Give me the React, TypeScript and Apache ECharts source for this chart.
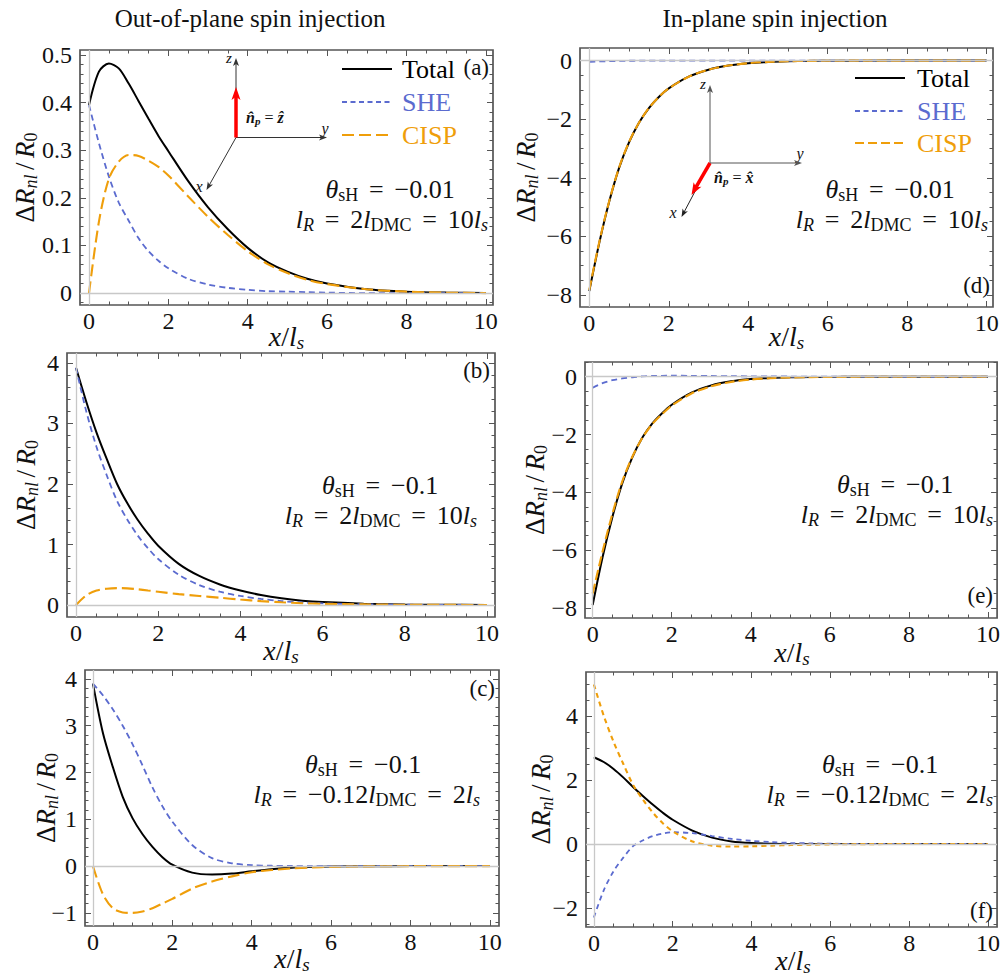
import React, { useEffect, useRef } from 'react';
import * as echarts from 'echarts';

const FONT = 'Liberation Serif';
const BLUE = '#5b6bcf';
const ORANGE = '#ef9e0a';
const FRAME = '#555555';

const xs = [0, 0.25, 0.5, 0.75, 1, 1.25, 1.5, 1.75, 2, 2.5, 3, 3.5, 4, 4.5, 5, 5.5, 6, 7, 8, 9, 10];

// (a) out-of-plane, thetaSH = -0.01
const totalA = [0.395, 0.465, 0.482, 0.472, 0.44, 0.403, 0.366, 0.33, 0.298, 0.235, 0.18, 0.134, 0.095, 0.065, 0.045, 0.03, 0.02, 0.008, 0.003, 0.001, 0];
const sheA = [0.395, 0.315, 0.245, 0.19, 0.152, 0.115, 0.088, 0.068, 0.052, 0.03, 0.018, 0.011, 0.007, 0.004, 0.003, 0.002, 0.001, 0, 0, 0, 0];
const cispA = [0, 0.15, 0.24, 0.276, 0.29, 0.288, 0.278, 0.265, 0.247, 0.203, 0.16, 0.122, 0.088, 0.061, 0.042, 0.028, 0.019, 0.008, 0.003, 0.001, 0];

// (b) out-of-plane, thetaSH = -0.1
const totalB = [3.92, 3.36, 2.85, 2.41, 2.0, 1.68, 1.41, 1.18, 0.98, 0.68, 0.48, 0.34, 0.24, 0.165, 0.11, 0.072, 0.048, 0.022, 0.009, 0.004, 0.002];
const sheB = [3.92, 3.2, 2.61, 2.14, 1.72, 1.41, 1.15, 0.94, 0.76, 0.5, 0.33, 0.22, 0.15, 0.1, 0.065, 0.042, 0.028, 0.012, 0.005, 0.002, 0.001];
const cispB = [0, 0.16, 0.24, 0.27, 0.28, 0.275, 0.26, 0.24, 0.22, 0.18, 0.15, 0.12, 0.09, 0.065, 0.045, 0.03, 0.02, 0.01, 0.004, 0.002, 0.001];

// (c) out-of-plane, lR = -0.12 lDMC
const totalC = [3.9, 2.85, 2.12, 1.48, 1.02, 0.68, 0.41, 0.19, 0.03, -0.14, -0.18, -0.16, -0.11, -0.065, -0.035, -0.02, -0.01, -0.003, 0, 0, 0];
const sheC = [3.9, 3.65, 3.35, 3.0, 2.6, 2.15, 1.68, 1.28, 0.95, 0.45, 0.17, 0.06, 0.02, 0.007, 0.002, 0, 0, 0, 0, 0, 0];
const cispC = [0, -0.6, -0.9, -0.99, -1.0, -0.97, -0.9, -0.8, -0.7, -0.48, -0.33, -0.22, -0.13, -0.085, -0.05, -0.03, -0.017, -0.005, -0.001, 0, 0];

// (d) in-plane, thetaSH = -0.01
const totalD = [-7.87, -6.23, -4.82, -3.66, -2.79, -2.12, -1.62, -1.24, -0.95, -0.55, -0.31, -0.17, -0.09, -0.045, -0.022, -0.011, -0.005, -0.001, 0, 0, 0];
const sheD = [-0.04, -0.028, -0.018, -0.011, -0.006, -0.003, -0.001, 0, 0.001, 0.002, 0.001, 0.001, 0, 0, 0, 0, 0, 0, 0, 0, 0];
const cispD = [-7.83, -6.2, -4.8, -3.65, -2.78, -2.12, -1.62, -1.24, -0.95, -0.55, -0.31, -0.17, -0.09, -0.045, -0.022, -0.011, -0.005, -0.001, 0, 0, 0];

// (e) in-plane, thetaSH = -0.1
const totalE = [-7.9, -6.25, -4.85, -3.68, -2.8, -2.12, -1.63, -1.27, -0.97, -0.55, -0.3, -0.16, -0.08, -0.04, -0.02, -0.01, -0.005, -0.001, 0, 0, 0];
const sheE = [-0.38, -0.22, -0.12, -0.06, -0.02, 0.01, 0.025, 0.032, 0.035, 0.032, 0.026, 0.02, 0.015, 0.01, 0.007, 0.005, 0.003, 0.001, 0, 0, 0];
const cispE = [-7.5, -6.05, -4.74, -3.62, -2.78, -2.13, -1.65, -1.3, -1.0, -0.58, -0.33, -0.18, -0.095, -0.05, -0.027, -0.015, -0.008, -0.002, 0, 0, 0];

// (f) in-plane, lR = -0.12 lDMC
const totalF = [2.72, 2.57, 2.35, 2.08, 1.78, 1.5, 1.23, 0.98, 0.76, 0.42, 0.2, 0.08, 0.03, 0.01, 0.003, 0, 0, 0, 0, 0, 0];
const sheF = [-2.3, -1.45, -0.85, -0.42, -0.06, 0.12, 0.25, 0.33, 0.37, 0.34, 0.25, 0.16, 0.1, 0.06, 0.035, 0.02, 0.01, 0.003, 0, 0, 0];
const cispF = [5.0, 4.02, 3.2, 2.5, 1.84, 1.38, 0.98, 0.65, 0.4, 0.08, -0.05, -0.08, -0.07, -0.05, -0.032, -0.02, -0.01, -0.003, 0, 0, 0];

const xMajor = [0, 2, 4, 6, 8, 10];
const yMajorA = [0, 0.1, 0.2, 0.3, 0.4, 0.5];
const yMajorB = [0, 1, 2, 3, 4];
const yMajorC = [-1, 0, 1, 2, 3, 4];
const yMajorD = [-8, -6, -4, -2, 0];
const yMajorF = [-2, 0, 2, 4];

const legendNames = ['Total', 'SHE', 'CISP'];

type Panel = {
  left: number; top: number; right: number; bottom: number;
  xmin: number; xmax: number; ymin: number; ymax: number;
  yMajor: number[]; yMinorStep: number;
  total: number[]; she: number[]; cisp: number[];
  sheDash: number[]; cispDash: number[]; nameX: number; nameXY: number;
};

const panels: Panel[] = [
  { left: 80, top: 50, right: 493, bottom: 305, xmin: -0.227, xmax: 10.18, ymin: -0.025, ymax: 0.5105, yMajor: yMajorA, yMinorStep: 0.02, total: totalA, she: sheA, cisp: cispA, sheDash: [6, 4], cispDash: [12, 5], nameX: 25, nameXY: 336 },
  { left: 67, top: 353, right: 495, bottom: 617, xmin: -0.219, xmax: 10.195, ymin: -0.198, ymax: 4.165, yMajor: yMajorB, yMinorStep: 0.2, total: totalB, she: sheB, cisp: cispB, sheDash: [6, 4], cispDash: [12, 5], nameX: 26, nameXY: 650 },
  { left: 85, top: 670, right: 499, bottom: 926, xmin: -0.2, xmax: 10.23, ymin: -1.28, ymax: 4.19, yMajor: yMajorC, yMinorStep: 0.2, total: totalC, she: sheC, cisp: cispC, sheDash: [6, 4], cispDash: [12, 5], nameX: 46, nameXY: 958 },
  { left: 580, top: 48, right: 993, bottom: 307, xmin: -0.234, xmax: 10.16, ymin: -8.41, ymax: 0.43, yMajor: yMajorD, yMinorStep: 0.5, total: totalD, she: sheD, cisp: cispD, sheDash: [6, 4], cispDash: [10, 4], nameX: 526, nameXY: 336 },
  { left: 585, top: 362, right: 999, bottom: 618, xmin: -0.194, xmax: 10.23, ymin: -8.35, ymax: 0.51, yMajor: yMajorD, yMinorStep: 0.5, total: totalE, she: sheE, cisp: cispE, sheDash: [6, 4], cispDash: [10, 4], nameX: 535, nameXY: 652 },
  { left: 586, top: 672, right: 1000, bottom: 927, xmin: -0.2, xmax: 10.23, ymin: -2.6, ymax: 5.39, yMajor: yMajorF, yMinorStep: 0.5, total: totalF, she: sheF, cisp: cispF, sheDash: [5, 4], cispDash: [5, 4], nameX: 541, nameXY: 960 },
];

function minorTicks(min: number, max: number, step: number, majors: number[]) {
  const out: number[] = [];
  const start = Math.ceil(min / step - 1e-9);
  for (let k = start; k * step <= max + 1e-9; k++) {
    const v = Math.round(k * step * 1e6) / 1e6;
    if (!majors.some((m) => Math.abs(m - v) < 1e-9)) out.push(v);
  }
  return out;
}

const fmt = (v: number) => String(v).replace('-', '\u2212');
const EQ = ' \u2006=\u2006 ';

function rich(s: number) {
  const sub = Math.round(s * 0.68);
  const pad = Math.round(s * 0.46);
  const lh = Math.round(s * 0.5);
  return {
    n: { fontSize: s, fontFamily: FONT, lineHeight: s },
    it: { fontSize: s, fontFamily: FONT, fontStyle: 'italic', lineHeight: s },
    sub: { fontSize: sub, fontFamily: FONT, lineHeight: lh, padding: [pad, 0, 0, 0] },
    subi: { fontSize: sub, fontFamily: FONT, fontStyle: 'italic', lineHeight: lh, padding: [pad, 0, 0, 0] },
    b: { fontSize: s, fontFamily: FONT, fontStyle: 'italic', fontWeight: 'bold', lineHeight: s },
    subb: { fontSize: sub, fontFamily: FONT, fontStyle: 'italic', fontWeight: 'bold', lineHeight: lh, padding: [pad, 0, 0, 0] },
  };
}

function txt(x: number, y: number, text: string, size: number, opts: any = {}) {
  return {
    type: 'text',
    x,
    y,
    rotation: opts.rotation || 0,
    z: 100,
    style: {
      text,
      fontFamily: FONT,
      fontSize: size,
      fontStyle: opts.italic ? 'italic' : 'normal',
      fill: opts.color || '#111',
      align: opts.align || 'left',
      verticalAlign: 'middle',
      rich: rich(size),
    },
  };
}

function arrow(x1: number, y1: number, x2: number, y2: number, color: string, w: number, hl: number, hw: number) {
  const a = Math.atan2(y2 - y1, x2 - x1);
  const c = Math.cos(a);
  const s = Math.sin(a);
  const bx = x2 - hl * c;
  const by = y2 - hl * s;
  const px = -s;
  const py = c;
  return [
    { type: 'line', z: 100, shape: { x1, y1, x2: bx + hl * 0.3 * c, y2: by + hl * 0.3 * s }, style: { stroke: color, lineWidth: w } },
    {
      type: 'polygon',
      z: 101,
      shape: {
        points: [
          [x2, y2],
          [bx + (px * hw) / 2, by + (py * hw) / 2],
          [bx + hl * 0.25 * c, by + hl * 0.25 * s],
          [bx - (px * hw) / 2, by - (py * hw) / 2],
        ],
      },
      style: { fill: color },
    },
  ];
}

function legend(x0: number, ys: number[], textX: number, cispDash: number[]) {
  const els: any[] = [];
  const colors = ['#000', BLUE, ORANGE];
  const dashes: any[] = ['solid', [5, 3.5], cispDash];
  legendNames.forEach((n, i) => {
    els.push({ type: 'line', z: 100, shape: { x1: x0, y1: ys[i], x2: x0 + 50, y2: ys[i] }, style: { stroke: colors[i], lineWidth: 2, lineDash: dashes[i] === 'solid' ? null : dashes[i] } });
    els.push(txt(textX, ys[i], n, 26, { color: colors[i] }));
  });
  return els;
}

export default function App() {
  const ref = useRef<HTMLDivElement>(null);
  useEffect(() => {
    if (!ref.current) return;
    const chart = echarts.init(ref.current, undefined, { renderer: 'svg' });
    const grid: any[] = [];
    const xAxis: any[] = [];
    const yAxis: any[] = [];
    const series: any[] = [];
    const graphic: any[] = [];

    const xMinor = minorTicks(-1, 11, 0.5, xMajor);

    panels.forEach((p, g) => {
      grid.push({
        left: p.left, top: p.top, width: p.right - p.left, height: p.bottom - p.top,
        show: true, borderColor: FRAME, borderWidth: 1.7, backgroundColor: 'transparent', containLabel: false,
      });
      const labelStyle = { color: '#111', fontFamily: FONT, fontSize: 24, formatter: fmt };
      const mkX = (pos: string, ticks: number[], len: number, labels: boolean) => ({
        type: 'value', gridIndex: g, position: pos, min: p.xmin, max: p.xmax,
        axisLine: { show: false, onZero: false }, splitLine: { show: false },
        axisTick: { show: true, inside: true, length: len, customValues: ticks, lineStyle: { color: FRAME, width: 1 } },
        axisLabel: labels ? { show: true, customValues: ticks, margin: 4, ...labelStyle } : { show: false },
      });
      const mkY = (pos: string, ticks: number[], len: number, labels: boolean) => ({
        type: 'value', gridIndex: g, position: pos, min: p.ymin, max: p.ymax,
        axisLine: { show: false, onZero: false }, splitLine: { show: false },
        axisTick: { show: true, inside: true, length: len, customValues: ticks, lineStyle: { color: FRAME, width: 1 } },
        axisLabel: labels ? { show: true, customValues: ticks, margin: 8, ...labelStyle } : { show: false },
      });
      const yMinor = minorTicks(p.ymin, p.ymax, p.yMinorStep, p.yMajor);
      const xi = xAxis.length;
      xAxis.push(mkX('bottom', xMajor, 6, true), mkX('bottom', xMinor, 3.5, false), mkX('top', xMajor, 6, false), mkX('top', xMinor, 3.5, false));
      const yi = yAxis.length;
      yAxis.push(mkY('left', p.yMajor, 6, true), mkY('left', yMinor, 3.5, false), mkY('right', p.yMajor, 6, false), mkY('right', yMinor, 3.5, false));

      series.push({
        type: 'line', xAxisIndex: xi, yAxisIndex: yi, data: [[0, 0]], symbol: 'none', lineStyle: { width: 0 }, z: 1, silent: true,
        markLine: {
          silent: true, symbol: ['none', 'none'], label: { show: false }, animation: false,
          lineStyle: { color: '#c8c8c8', width: 1.3, type: 'solid' },
          data: [{ xAxis: 0 }, { yAxis: 0 }],
        },
      });
      const mk = (name: string, arr: number[], color: string, type: any, width: number, z: number) => ({
        type: 'line', name, xAxisIndex: xi, yAxisIndex: yi, z,
        data: xs.map((x, k) => [x, arr[k]]),
        showSymbol: false, symbol: 'none', smooth: 0.3, silent: true,
        lineStyle: { color, width, type },
      });
      series.push(mk('Total', p.total, '#000', 'solid', 2, 2));
      series.push(mk('SHE', p.she, BLUE, p.sheDash, 1.8, 3));
      series.push(mk('CISP', p.cisp, ORANGE, p.cispDash, 2.1, 4));

      const cy = (p.top + p.bottom) / 2;
      graphic.push(txt(p.nameX, cy, '{n|Δ}{it|R}{subi|nl}{n|\u2006/\u2006}{it|R}{sub|0}', 27, { align: 'center', rotation: Math.PI / 2 }));
      graphic.push(txt((p.left + p.right) / 2, p.nameXY, '{it|x}{n|/}{it|l}{subi|s}', 28, { align: 'center' }));
    });

    // titles
    graphic.push(txt(250, 18, 'Out-of-plane spin injection', 25, { align: 'center' }));
    graphic.push(txt(775, 18, 'In-plane spin injection', 25, { align: 'center' }));

    // panel labels
    graphic.push(txt(489, 67, '(a)', 23, { align: 'right' }));
    graphic.push(txt(490, 370, '(b)', 23, { align: 'right' }));
    graphic.push(txt(495, 688, '(c)', 23, { align: 'right' }));
    graphic.push(txt(990, 285, '(d)', 23, { align: 'right' }));
    graphic.push(txt(993, 595, '(e)', 23, { align: 'right' }));
    graphic.push(txt(993, 910, '(f)', 23, { align: 'right' }));

    // parameter annotations
    const th1 = `{it|θ}{sub|sH}{n|${EQ}−0.01}`;
    const th2 = `{it|θ}{sub|sH}{n|${EQ}−0.1}`;
    const lr1 = `{it|l}{subi|R}{n|${EQ}2}{it|l}{sub|DMC}{n|${EQ}10}{it|l}{subi|s}`;
    const lr2 = `{it|l}{subi|R}{n|${EQ}−0.12}{it|l}{sub|DMC}{n|${EQ}2}{it|l}{subi|s}`;
    const AS = 26;
    graphic.push(txt(390, 189, th1, AS, { align: 'center' }));
    graphic.push(txt(488, 219, lr1, AS, { align: 'right' }));
    graphic.push(txt(890, 189, th1, AS, { align: 'center' }));
    graphic.push(txt(988, 219, lr1, AS, { align: 'right' }));
    graphic.push(txt(380, 485, th2, AS, { align: 'center' }));
    graphic.push(txt(477, 515, lr1, AS, { align: 'right' }));
    graphic.push(txt(895, 484, th2, AS, { align: 'center' }));
    graphic.push(txt(993, 514, lr1, AS, { align: 'right' }));
    graphic.push(txt(363, 764, th2, AS, { align: 'center' }));
    graphic.push(txt(480, 794, lr2, AS, { align: 'right' }));
    graphic.push(txt(880, 764, th2, AS, { align: 'center' }));
    graphic.push(txt(993, 794, lr2, AS, { align: 'right' }));

    // legends
    graphic.push(...legend(342, [69, 102, 135], 402, [12, 5]));
    graphic.push(...legend(855, [78, 111, 143], 917, [9, 4]));

    // inset (a): out-of-plane polarization
    const oa = [236, 137.5];
    graphic.push(...arrow(oa[0], oa[1], 236, 58, '#333', 1, 8, 6));
    graphic.push(...arrow(oa[0], oa[1], 327, 137.5, '#333', 1, 8, 6));
    graphic.push(...arrow(oa[0], oa[1], 206.5, 190, '#333', 1, 8, 6));
    graphic.push(...arrow(oa[0], oa[1], 236, 87, '#ff0000', 3.5, 13, 9));
    graphic.push(txt(229, 58, 'z', 15, { italic: true, align: 'center' }));
    graphic.push(txt(325, 128, 'y', 16, { italic: true, align: 'center' }));
    graphic.push(txt(199, 186, 'x', 16, { italic: true, align: 'center' }));
    graphic.push(txt(246, 117, '{b|n̂}{subb|p}{n| = }{b|ẑ}', 16));

    // inset (d): in-plane polarization
    const od = [710, 163];
    graphic.push(...arrow(od[0], od[1], 710, 85, '#555', 1, 8, 6));
    graphic.push(...arrow(od[0], od[1], 802, 163, '#555', 1, 8, 6));
    graphic.push(...arrow(od[0], od[1], 681.5, 217, '#222', 1, 8, 6));
    graphic.push(...arrow(od[0], od[1], 691.5, 195, '#ff0000', 3.5, 12, 9));
    graphic.push(txt(703, 84, 'z', 15, { italic: true, align: 'center' }));
    graphic.push(txt(800, 153, 'y', 16, { italic: true, align: 'center' }));
    graphic.push(txt(673, 212, 'x', 16, { italic: true, align: 'center' }));
    graphic.push(txt(714, 177, '{b|n̂}{subb|p}{n| = }{b|x̂}', 16));

    chart.setOption({
      animation: false,
      backgroundColor: '#fff',
      grid,
      xAxis,
      yAxis,
      series,
      graphic,
    });
    return () => chart.dispose();
  }, []);
  return <div ref={ref} style={{ position: 'absolute', left: 0, top: 0, width: 1003, height: 978 }} />;
}
